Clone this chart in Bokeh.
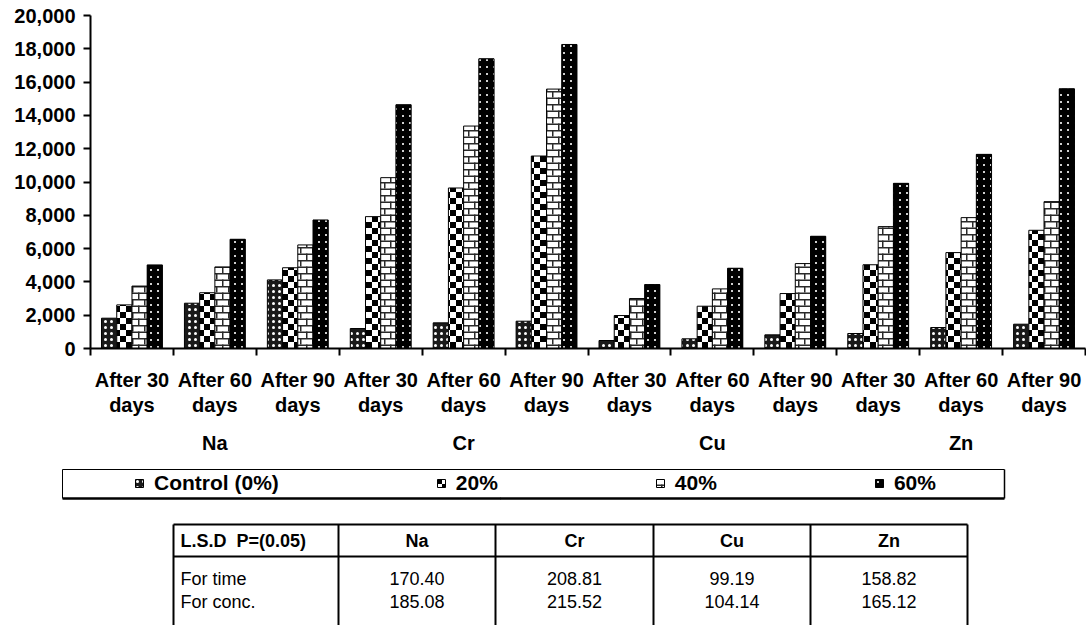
import numpy as np
from bokeh.plotting import figure
from bokeh.models import (Range1d, FixedTicker, NumeralTickFormatter, LinearAxis,
                          CanvasTexture, Legend, LegendItem, ColumnDataSource)
from bokeh.core.properties import value
from bokeh.embed import file_html
from bokeh.resources import INLINE

# ---------------- data ----------------
elements = ["Na", "Cr", "Cu", "Zn"]
times = ["After 30 days", "After 60 days", "After 90 days"]
series = ["Control (0%)", "20%", "40%", "60%"]
control = [1820, 2720, 4120, 1200, 1540, 1640, 480, 580, 820, 900, 1260, 1460]
conc20 = [2620, 3350, 4850, 7920, 9640, 11560, 1980, 2540, 3300, 5030, 5760, 7100]
conc40 = [3750, 4900, 6220, 10260, 13360, 15580, 3000, 3580, 5100, 7320, 7860, 8820]
conc60 = [5020, 6560, 7720, 14640, 17400, 18260, 3840, 4820, 6740, 9920, 11660, 15600]
y_ticks = list(range(0, 20001, 2000))
lsd_header = "L.S.D\u00a0 P=(0.05)"
lsd_rows = ["For time", "For conc."]
lsd_time = ["170.40", "208.81", "99.19", "158.82"]
lsd_conc = ["185.08", "215.52", "104.14", "165.12"]

FONT = "Liberation Sans"

# ---------------- textures (explicit tile sizes) ----------------
CHECK_JS = """
var s = 12, h = 6;
if (ctx.canvas) { ctx.canvas.width = s; ctx.canvas.height = s; }
ctx.fillStyle = '#ffffff'; ctx.fillRect(0, 0, s, s);
ctx.fillStyle = '#000000';
ctx.fillRect(0, 0, h, h); ctx.fillRect(h, h, h, h);
"""
BRICK_JS = """
var w = 12, hh = 13, m = 6;
if (ctx.canvas) { ctx.canvas.width = w; ctx.canvas.height = hh; }
ctx.fillStyle = '#ffffff'; ctx.fillRect(0, 0, w, hh);
ctx.fillStyle = '#2a2a2a';
ctx.fillRect(0, 0, w, 1.5); ctx.fillRect(0, 6.5, w, 1.5);
ctx.fillRect(0, 0, 1.5, 6.5); ctx.fillRect(m, 6.5, 1.5, 6.5);
"""
SPK_JS = """
var s = 7;
if (ctx.canvas) { ctx.canvas.width = s; ctx.canvas.height = s; }
ctx.fillStyle = '#000000'; ctx.fillRect(0, 0, s, s);
ctx.fillStyle = '#cfcfcf';
ctx.fillRect(3, 3, 2, 2);
"""


def style(i):
    base = dict(line_color="black", line_width=1)
    if i == 0:
        base.update(fill_color="#1a1a1a", hatch_pattern="dot", hatch_color="white",
                    hatch_scale=6, hatch_weight=2.5)
    elif i == 1:
        base.update(fill_color="white", hatch_pattern=value("chk"),
                    hatch_extra={"chk": CanvasTexture(code=CHECK_JS)}, hatch_scale=12)
    elif i == 2:
        base.update(fill_color="white", hatch_pattern=value("brk"),
                    hatch_extra={"brk": CanvasTexture(code=BRICK_JS)}, hatch_scale=12)
    else:
        base.update(fill_color="black", hatch_pattern=value("spk"),
                    hatch_extra={"spk": CanvasTexture(code=SPK_JS)}, hatch_scale=7)
    return base


# ---------------- chart ----------------
n = len(elements) * len(times)
p = figure(width=1086, height=460, x_range=Range1d(0, n), y_range=Range1d(0, 20000),
           output_backend="svg", toolbar_location=None,
           min_border_left=90, min_border_right=1, min_border_top=15, min_border_bottom=112)
p.outline_line_color = None
p.xgrid.visible = False
p.ygrid.visible = False
p.background_fill_color = "white"

bar_w = 0.1835
centers = np.arange(n) + 0.5
vals = [control, conc20, conc40, conc60]
for i, v in enumerate(vals):
    off = (i - 1.5) * bar_w
    src = ColumnDataSource(dict(x=centers + off, top=v))
    p.vbar(x="x", top="top", width=bar_w, bottom=0, source=src, **style(i))

# y axis
ya = p.yaxis[0]
ya.ticker = FixedTicker(ticks=y_ticks)
ya.formatter = NumeralTickFormatter(format="0,0")
ya.axis_line_width = 2
ya.major_tick_line_width = 2
ya.major_tick_out = 7
ya.major_tick_in = 0
ya.minor_tick_line_color = None
ya.major_label_standoff = 8
ya.major_label_text_font = FONT
ya.major_label_text_font_style = "bold"
ya.major_label_text_font_size = "20px"
ya.major_label_text_color = "black"

# x axis (time labels)
xa = p.xaxis[0]
labels = {float(c): times[k % 3].replace(" days", "\ndays") for k, c in enumerate(centers)}
xa.ticker = FixedTicker(ticks=list(centers), minor_ticks=list(range(0, n + 1)))
xa.major_label_overrides = labels
xa.axis_line_width = 2
xa.major_tick_line_color = None
xa.major_tick_out = 0
xa.major_tick_in = 0
xa.minor_tick_line_width = 2
xa.minor_tick_line_color = "black"
xa.minor_tick_out = 7
xa.minor_tick_in = 0
xa.major_label_standoff = 13
xa.major_label_text_font = FONT
xa.major_label_text_font_style = "bold"
xa.major_label_text_font_size = "20px"
xa.major_label_text_line_height = 1.14
xa.major_label_text_color = "black"

# group axis (element names)
gcent = [1.5 + 3 * k for k in range(len(elements))]
ga = LinearAxis(ticker=FixedTicker(ticks=gcent),
                major_label_overrides={float(c): e for c, e in zip(gcent, elements)})
ga.axis_line_color = None
ga.major_tick_line_color = None
ga.minor_tick_line_color = None
ga.major_tick_out = 0
ga.major_label_standoff = 13
ga.major_label_text_font = FONT
ga.major_label_text_font_style = "bold"
ga.major_label_text_font_size = "20px"
ga.major_label_text_color = "black"
p.add_layout(ga, "below")

# ---------------- legend + table ----------------
H2 = 165
t = figure(width=1086, height=H2, x_range=Range1d(0, 1086), y_range=Range1d(H2, 0),
           output_backend="svg", toolbar_location=None, x_axis_type=None, y_axis_type=None,
           min_border=0)
t.outline_line_color = None
t.xgrid.visible = False
t.ygrid.visible = False

# tiny proxy bars (hidden beneath the legend frame's thick bottom rule),
# used only for the legend swatches
items = []
for i, s in enumerate(series):
    r = t.vbar(x=[500], top=[38.2], width=0.4, bottom=37.8, **style(i))
    items.append(LegendItem(label=s, renderers=[r]))

# legend frame (drawn after the proxies so it covers them)
t.segment(x0=[62, 62, 1004, 62], y0=[9, 9, 9, 38], x1=[1004, 62, 1004, 1004], y1=[9, 38, 38, 38],
          line_color="black", line_width=[1, 1, 1.5, 2.5])

leg = Legend(items=items, orientation="horizontal", location=(134, H2 - 35),
             spacing=157, glyph_width=10, glyph_height=10, label_standoff=10,
             padding=0, margin=0, border_line_color=None, background_fill_alpha=0,
             label_text_font=FONT, label_text_font_style="bold",
             label_text_font_size="21px", label_text_color="black")
t.add_layout(leg)

# table lines
cols = [173, 338, 495, 653, 810, 967]
t.segment(x0=[cols[0], cols[0]], y0=[64, 96], x1=[cols[-1], cols[-1]], y1=[64, 96],
          line_color="black", line_width=2)
t.segment(x0=cols, y0=[64] * len(cols), x1=cols, y1=[H2] * len(cols),
          line_color="black", line_width=2)

ccent = [(cols[k] + cols[k + 1]) / 2 for k in range(1, 5)]
t.text(x=[180], y=[80], text=[lsd_header], text_font=value(FONT), text_font_style="bold",
       text_font_size="18px", text_align="left", text_baseline="middle", text_color="black")
t.text(x=ccent, y=[80] * 4, text=elements, text_font=value(FONT), text_font_style="bold",
       text_font_size="18px", text_align="center", text_baseline="middle", text_color="black")
t.text(x=[180, 180], y=[118, 141], text=lsd_rows, text_font=value(FONT),
       text_font_size="18px", text_align="left", text_baseline="middle", text_color="black")
t.text(x=ccent + ccent, y=[118] * 4 + [141] * 4, text=lsd_time + lsd_conc, text_font=value(FONT),
       text_font_size="18px", text_align="center", text_baseline="middle", text_color="black")

open("out.html", "w").write(file_html([p, t], INLINE))
